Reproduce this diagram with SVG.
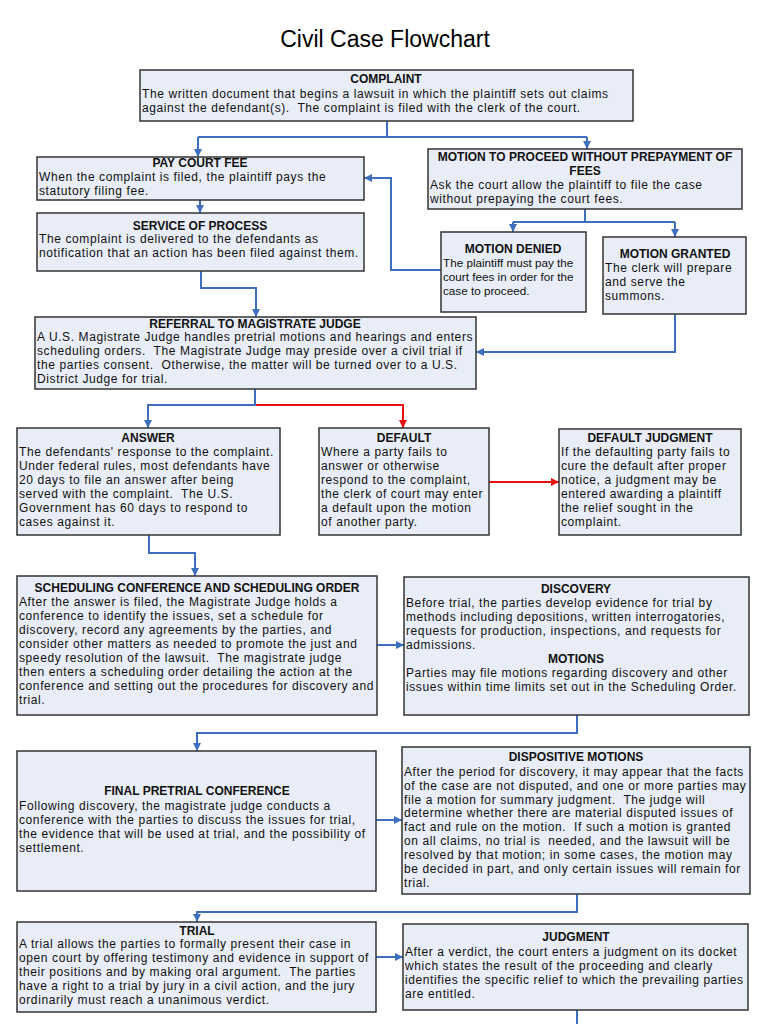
<svg xmlns="http://www.w3.org/2000/svg" width="768" height="1024" viewBox="0 0 768 1024">
<defs>
<style>
.box{fill:#e8edf7;stroke:#333;stroke-width:1.5}
text{font-family:"Liberation Sans",Arial,sans-serif;font-size:12px;fill:#111;white-space:pre}
.t{font-weight:bold;text-anchor:middle}
.b{letter-spacing:0.6px}
.n{font-size:11.7px}
.ttl{font-size:23px;text-anchor:middle;fill:#000}
.c{fill:none;stroke:#3e6fbe;stroke-width:2}
.r{fill:none;stroke:#e8100e;stroke-width:2}
</style>
<marker id="ab" viewBox="0 0 10 10" refX="10" refY="5" markerWidth="8" markerHeight="8" markerUnits="userSpaceOnUse" orient="auto"><path d="M0,0 L10,5 L0,10 z" fill="#3e6fbe"/></marker>
<marker id="ar" viewBox="0 0 10 10" refX="10" refY="5" markerWidth="8" markerHeight="8" markerUnits="userSpaceOnUse" orient="auto"><path d="M0,0 L10,5 L0,10 z" fill="#e8100e"/></marker>
</defs>
<rect width="768" height="1024" fill="#fff"/>
<text class="ttl" x="385" y="47">Civil Case Flowchart</text>

<g id="connectors">
<path class="c" d="M387,121 V137 M198,137 H587"/>
<path class="c" d="M198,137 V157" marker-end="url(#ab)"/>
<path class="c" d="M587,137 V149" marker-end="url(#ab)"/>
<path class="c" d="M200,200 V213" marker-end="url(#ab)"/>
<path class="c" d="M585,209 V222 M513,222 H675"/>
<path class="c" d="M513,222 V232" marker-end="url(#ab)"/>
<path class="c" d="M675,222 V237" marker-end="url(#ab)"/>
<path class="c" d="M441,270 H391 V178 H364" marker-end="url(#ab)"/>
<path class="c" d="M675,314 V352 H476" marker-end="url(#ab)"/>
<path class="c" d="M201,271 V288 H256 V317" marker-end="url(#ab)"/>
<path class="c" d="M255,389 V405 H148 V428" marker-end="url(#ab)"/>
<path class="r" d="M256,405 H403 V428" marker-end="url(#ar)"/>
<path class="r" d="M489,482 H559" marker-end="url(#ar)"/>
<path class="c" d="M149,535 V553 H195 V576" marker-end="url(#ab)"/>
<path class="c" d="M377,645 H404" marker-end="url(#ab)"/>
<path class="c" d="M577,715 V733 H197 V751" marker-end="url(#ab)"/>
<path class="c" d="M376,820 H402" marker-end="url(#ab)"/>
<path class="c" d="M577,894 V912 H197 V922" marker-end="url(#ab)"/>
<path class="c" d="M376,957 H403" marker-end="url(#ab)"/>
<path class="c" d="M577,1010 V1024"/>
</g>

<g id="complaint">
<rect class="box" x="140" y="70" width="493" height="51"/>
<text class="t" x="386" y="83">COMPLAINT</text>
<text class="b" x="142" y="98">The written document that begins a lawsuit in which the plaintiff sets out claims</text>
<text class="b" x="142" y="112">against the defendant(s).  The complaint is filed with the clerk of the court.</text>
</g>

<g id="pay-court-fee">
<rect class="box" x="37" y="157" width="327" height="43"/>
<text class="t" x="200" y="167">PAY COURT FEE</text>
<text class="b" x="39" y="181">When the complaint is filed, the plaintiff pays the</text>
<text class="b" x="39" y="195">statutory filing fee.</text>
</g>

<g id="service-of-process">
<rect class="box" x="37" y="213" width="327" height="58"/>
<text class="t" x="200" y="230">SERVICE OF PROCESS</text>
<text class="b" x="39" y="243">The complaint is delivered to the defendants as</text>
<text class="b" x="39" y="257">notification that an action has been filed against them.</text>
</g>

<g id="motion-proceed">
<rect class="box" x="428" y="149" width="314" height="60"/>
<text class="t" x="585" y="161">MOTION TO PROCEED WITHOUT PREPAYMENT OF</text>
<text class="t" x="585" y="175">FEES</text>
<text class="b" x="430" y="189">Ask the court allow the plaintiff to file the case</text>
<text class="b" x="430" y="203">without prepaying the court fees.</text>
</g>

<g id="motion-denied">
<rect class="box" x="441" y="232" width="145" height="80"/>
<text class="t" x="513" y="253">MOTION DENIED</text>
<text class="n" x="443" y="267">The plaintiff must pay the</text>
<text class="n" x="443" y="281">court fees in order for the</text>
<text class="n" x="443" y="295">case to proceed.</text>
</g>

<g id="motion-granted">
<rect class="box" x="603" y="237" width="143" height="77"/>
<text class="t" x="675" y="258">MOTION GRANTED</text>
<text class="b" x="605" y="272">The clerk will prepare</text>
<text class="b" x="605" y="286">and serve the</text>
<text class="b" x="605" y="300">summons.</text>
</g>

<g id="referral">
<rect class="box" x="35" y="317" width="441" height="72"/>
<text class="t" x="255" y="328">REFERRAL TO MAGISTRATE JUDGE</text>
<text class="b" x="37" y="341">A U.S. Magistrate Judge handles pretrial motions and hearings and enters</text>
<text class="b" x="37" y="355">scheduling orders.  The Magistrate Judge may preside over a civil trial if</text>
<text class="b" x="37" y="369">the parties consent.  Otherwise, the matter will be turned over to a U.S.</text>
<text class="b" x="37" y="383">District Judge for trial.</text>
</g>

<g id="answer">
<rect class="box" x="17" y="428" width="263" height="107"/>
<text class="t" x="148" y="442">ANSWER</text>
<text class="b" x="19" y="456">The defendants' response to the complaint.</text>
<text class="b" x="19" y="470">Under federal rules, most defendants have</text>
<text class="b" x="19" y="484">20 days to file an answer after being</text>
<text class="b" x="19" y="498">served with the complaint.  The U.S.</text>
<text class="b" x="19" y="512">Government has 60 days to respond to</text>
<text class="b" x="19" y="526">cases against it.</text>
</g>

<g id="default">
<rect class="box" x="319" y="428" width="170" height="107"/>
<text class="t" x="404" y="442">DEFAULT</text>
<text class="b" x="321" y="456">Where a party fails to</text>
<text class="b" x="321" y="470">answer or otherwise</text>
<text class="b" x="321" y="484">respond to the complaint,</text>
<text class="b" x="321" y="498">the clerk of court may enter</text>
<text class="b" x="321" y="512">a default upon the motion</text>
<text class="b" x="321" y="526">of another party.</text>
</g>

<g id="default-judgment">
<rect class="box" x="559" y="429" width="182" height="106"/>
<text class="t" x="650" y="442">DEFAULT JUDGMENT</text>
<text class="b" x="561" y="456">If the defaulting party fails to</text>
<text class="b" x="561" y="470">cure the default after proper</text>
<text class="b" x="561" y="484">notice, a judgment may be</text>
<text class="b" x="561" y="498">entered awarding a plaintiff</text>
<text class="b" x="561" y="512">the relief sought in the</text>
<text class="b" x="561" y="526">complaint.</text>
</g>

<g id="scheduling">
<rect class="box" x="17" y="576" width="360" height="139"/>
<text class="t" x="197" y="592">SCHEDULING CONFERENCE AND SCHEDULING ORDER</text>
<text class="b" x="19" y="606">After the answer is filed, the Magistrate Judge holds a</text>
<text class="b" x="19" y="620">conference to identify the issues, set a schedule for</text>
<text class="b" x="19" y="634">discovery, record any agreements by the parties, and</text>
<text class="b" x="19" y="648">consider other matters as needed to promote the just and</text>
<text class="b" x="19" y="662">speedy resolution of the lawsuit.  The magistrate judge</text>
<text class="b" x="19" y="676">then enters a scheduling order detailing the action at the</text>
<text class="b" x="19" y="690">conference and setting out the procedures for discovery and</text>
<text class="b" x="19" y="704">trial.</text>
</g>

<g id="discovery">
<rect class="box" x="404" y="577" width="345" height="138"/>
<text class="t" x="576" y="593">DISCOVERY</text>
<text class="b" x="406" y="607">Before trial, the parties develop evidence for trial by</text>
<text class="b" x="406" y="621">methods including depositions, written interrogatories,</text>
<text class="b" x="406" y="635">requests for production, inspections, and requests for</text>
<text class="b" x="406" y="649">admissions.</text>
<text class="t" x="576" y="663">MOTIONS</text>
<text class="b" x="406" y="677">Parties may file motions regarding discovery and other</text>
<text class="b" x="406" y="691">issues within time limits set out in the Scheduling Order.</text>
</g>

<g id="final-pretrial">
<rect class="box" x="17" y="751" width="359" height="140"/>
<text class="t" x="197" y="795">FINAL PRETRIAL CONFERENCE</text>
<text class="b" x="19" y="810">Following discovery, the magistrate judge conducts a</text>
<text class="b" x="19" y="824">conference with the parties to discuss the issues for trial,</text>
<text class="b" x="19" y="838">the evidence that will be used at trial, and the possibility of</text>
<text class="b" x="19" y="852">settlement.</text>
</g>

<g id="dispositive">
<rect class="box" x="402" y="747" width="348" height="147"/>
<text class="t" x="576" y="761">DISPOSITIVE MOTIONS</text>
<text class="b" x="404" y="776">After the period for discovery, it may appear that the facts</text>
<text class="b" x="404" y="790">of the case are not disputed, and one or more parties may</text>
<text class="b" x="404" y="804">file a motion for summary judgment.  The judge will</text>
<text class="b" x="404" y="817">determine whether there are material disputed issues of</text>
<text class="b" x="404" y="831">fact and rule on the motion.  If such a motion is granted</text>
<text class="b" x="404" y="845">on all claims, no trial is  needed, and the lawsuit will be</text>
<text class="b" x="404" y="859">resolved by that motion; in some cases, the motion may</text>
<text class="b" x="404" y="873">be decided in part, and only certain issues will remain for</text>
<text class="b" x="404" y="887">trial.</text>
</g>

<g id="trial">
<rect class="box" x="17" y="922" width="359" height="90"/>
<text class="t" x="197" y="935">TRIAL</text>
<text class="b" x="19" y="948">A trial allows the parties to formally present their case in</text>
<text class="b" x="19" y="962">open court by offering testimony and evidence in support of</text>
<text class="b" x="19" y="976">their positions and by making oral argument.  The parties</text>
<text class="b" x="19" y="990">have a right to a trial by jury in a civil action, and the jury</text>
<text class="b" x="19" y="1004">ordinarily must reach a unanimous verdict.</text>
</g>

<g id="judgment">
<rect class="box" x="403" y="924" width="345" height="86"/>
<text class="t" x="576" y="941">JUDGMENT</text>
<text class="b" x="405" y="956">After a verdict, the court enters a judgment on its docket</text>
<text class="b" x="405" y="970">which states the result of the proceeding and clearly</text>
<text class="b" x="405" y="984">identifies the specific relief to which the prevailing parties</text>
<text class="b" x="405" y="998">are entitled.</text>
</g>
</svg>
